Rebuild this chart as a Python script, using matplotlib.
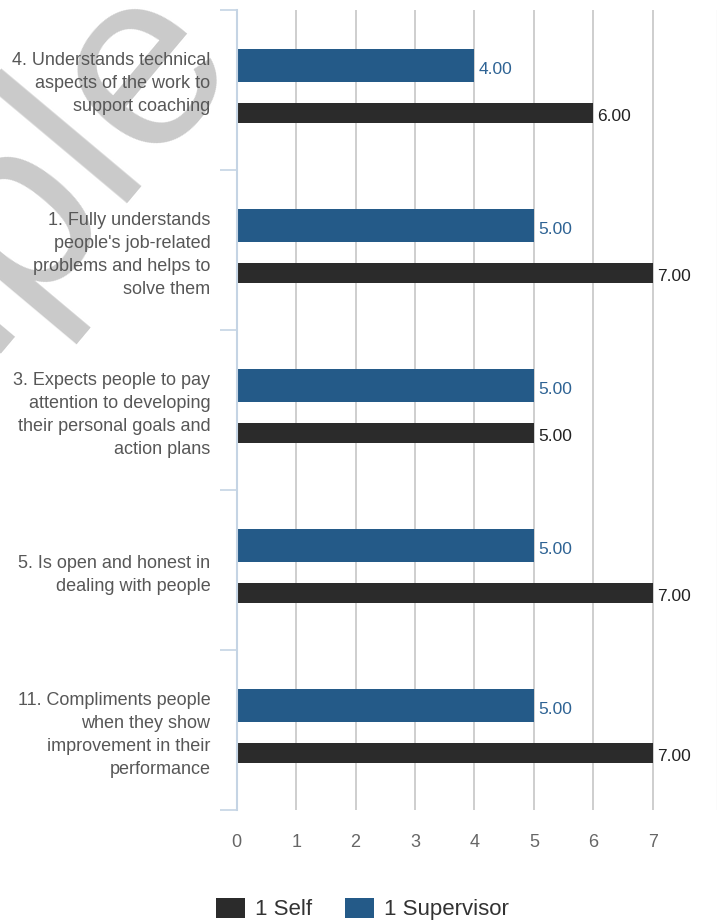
import matplotlib
matplotlib.use("Agg")
import matplotlib.pyplot as plt
import numpy as np

plt.rcParams['font.family'] = ['Liberation Sans', 'DejaVu Sans']

# Survey items, top to bottom
categories = [
    "4. Understands technical\naspects of the work to\nsupport coaching",
    "1. Fully understands\npeople's job-related\nproblems and helps to\nsolve them",
    "3. Expects people to pay\nattention to developing\ntheir personal goals and\naction plans",
    "5. Is open and honest in\ndealing with people",
    "11. Compliments people\nwhen they show\nimprovement in their\nperformance",
]
self_scores = [6.0, 7.0, 5.0, 7.0, 7.0]
supervisor_scores = [4.0, 5.0, 5.0, 5.0, 5.0]
series_names = ["1 Self", "1 Supervisor"]
x_ticks = [0, 1, 2, 3, 4, 5, 6, 7]

SELF_COLOR = "#2b2b2b"
SUP_COLOR = "#245a88"
GRID_COLOR = "#cacaca"
AXIS_COLOR = "#c5d4e4"
LABEL_COLOR = "#575757"

fig = plt.figure(figsize=(7.25, 9.24), dpi=100)
fig.patch.set_facecolor("white")

# faint diagonal watermark behind the plot
fig.text(-0.43, 0.2284, "Sample", rotation=50, rotation_mode="anchor",
         ha="left", va="baseline", fontsize=182, color="#cacaca", zorder=-5)

ax = fig.add_axes([0.3265, 0.1234, 0.6625, 0.8658])
ax.set_facecolor("none")

y = np.arange(len(categories))
sup_y = y - 0.15
self_y = y + 0.147
sup_bars = ax.barh(sup_y, supervisor_scores, height=0.206, color=SUP_COLOR,
                   zorder=3, label=series_names[1])
self_bars = ax.barh(self_y, self_scores, height=0.125, color=SELF_COLOR,
                    zorder=3, label=series_names[0])

# value labels just past the end of each bar
for yy, v in zip(sup_y, supervisor_scores):
    ax.annotate(f"{v:.2f}", (v, yy), xytext=(3, -2.5), textcoords="offset points",
                ha="left", va="center", color="#2e6394", fontsize=12.5)
for yy, v in zip(self_y, self_scores):
    ax.annotate(f"{v:.2f}", (v, yy), xytext=(3, -2.5), textcoords="offset points",
                ha="left", va="center", color="#222222", fontsize=12.5)

ax.set_xlim(0, 8.08)
ax.set_ylim(len(categories) - 0.5, -0.5)

# vertical grid at integer scores
ax.set_xticks(x_ticks)
ax.set_xticklabels([str(t) for t in x_ticks])
ax.xaxis.grid(True, color=GRID_COLOR, linewidth=1.3, zorder=0)
ax.tick_params(axis="x", length=0, pad=17, labelsize=13, labelcolor="#666666")
ax.axvline(8.08, color="#eeeeee", linewidth=1.0, zorder=0)

# category labels; three-line labels sit top-aligned with the four-line ones
ylabels = [t + "\n" if t.count("\n") == 2 else t for t in categories]
ax.set_yticks(y)
ax.set_yticklabels(ylabels, linespacing=1.47)
ax.tick_params(axis="y", which="major", length=0, pad=19, labelsize=13,
               labelcolor=LABEL_COLOR)
ax.set_yticks(np.arange(len(categories) + 1) - 0.5, minor=True)
ax.tick_params(axis="y", which="minor", length=12, width=1.2, color=AXIS_COLOR)

for side in ("top", "right", "bottom"):
    ax.spines[side].set_visible(False)
ax.spines["left"].set_color(AXIS_COLOR)
ax.spines["left"].set_linewidth(1.5)
ax.spines["left"].set_zorder(4)

handles = [self_bars, sup_bars]
fig.legend(handles, series_names, loc="center", bbox_to_anchor=(0.5, 0.0162),
           ncol=2, frameon=False, fontsize=16, handlelength=1.3,
           handleheight=1.0, handletextpad=0.45, columnspacing=1.5,
           labelcolor="#333333")

fig.savefig("out.png", dpi=100, facecolor="white")
